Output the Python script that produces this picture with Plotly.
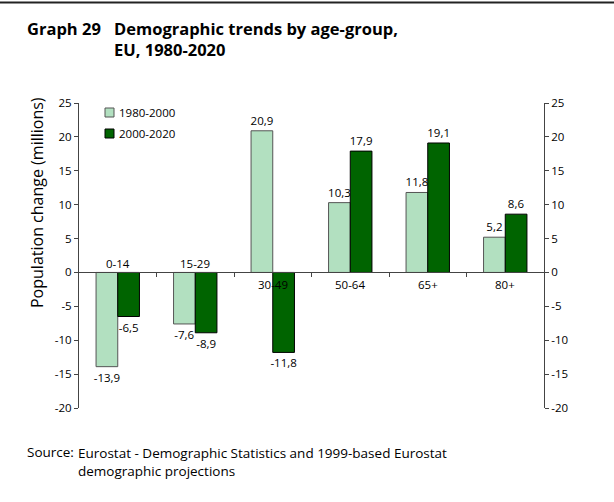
import plotly.graph_objects as go

categories = ["0-14", "15-29", "30-49", "50-64", "65+", "80+"]
series_names = ["1980-2000", "2000-2020"]
series_1980_2000 = [-13.9, -7.6, 20.9, 10.3, 11.8, 5.2]
series_2000_2020 = [-6.5, -8.9, -11.8, 17.9, 19.1, 8.6]
y_tick_values = [-20, -15, -10, -5, 0, 5, 10, 15, 20, 25]
y_tick_labels = ["-20", "-15", "-10", "-5", "0", "5", "10", "15", "20", "25"]
label_above_axis = [True, True, False, False, False, False]

FONT = "Open Sans"
LIGHT = "#b2e0c0"
DARK = "#006400"
W, H = 614, 502
ML, MR, MT, MB = 79, 70, 103, 94


def fmt(v):
    return f"{v:.1f}".replace(".", ",")


xs = list(range(len(categories)))
plot_w = W - ML - MR
plot_h = H - MT - MB


def px_x(px):
    return (px - ML) / plot_w


def px_y(py):
    return (H - MB - py) / plot_h


fig = go.Figure()
for name, vals, col, lc in [(series_names[0], series_1980_2000, LIGHT, "#555555"),
                            (series_names[1], series_2000_2020, DARK, "#000000")]:
    fig.add_trace(go.Bar(
        x=xs, y=vals, name=name,
        marker=dict(color=col, line=dict(color=lc, width=1)),
        text=[fmt(v) for v in vals], textposition="outside", constraintext="none",
        textfont=dict(family=FONT, size=11.5, color="#000"), cliponaxis=False,
        showlegend=False,
    ))
fig.add_trace(go.Scatter(x=[None], y=[None], yaxis="y2", showlegend=False, hoverinfo="skip"))

ymin, ymax = -20, 25
zero_pos = (0 - ymin) / (ymax - ymin)

axis_common = dict(range=[ymin, ymax], tickvals=y_tick_values, ticktext=y_tick_labels,
                   ticks="outside", ticklen=4, tickcolor="#444",
                   showline=True, linecolor="#444", linewidth=1, showgrid=False, zeroline=False,
                   tickfont=dict(family=FONT, size=11.5))

fig.update_layout(
    width=W, height=H,
    margin=dict(l=ML, r=MR, t=MT, b=MB),
    paper_bgcolor="white", plot_bgcolor="white",
    font=dict(family=FONT, size=11, color="#000"),
    barmode="group", bargap=0.44, bargroupgap=0,
    showlegend=False,
    xaxis=dict(range=[-0.5, len(categories) - 0.5], anchor="free", position=zero_pos,
               tickvals=[i + 0.5 for i in range(len(categories) - 1)],
               showticklabels=False, ticks="outside", ticklen=4, tickcolor="#444",
               showline=True, linecolor="#444", linewidth=1, showgrid=False, zeroline=False),
    yaxis=dict(**axis_common),
    yaxis2=dict(overlaying="y", side="right", **axis_common),
)

# category labels
for i, (c, above) in enumerate(zip(categories, label_above_axis)):
    fig.add_annotation(x=i, y=0, xref="x", yref="y", text=c, showarrow=False,
                       yshift=9 if above else -12, font=dict(family=FONT, size=11.5))


def text_at(px, py, text, size, anchor="left", angle=0):
    fig.add_annotation(x=px_x(px), y=px_y(py), xref="paper", yref="paper", xanchor=anchor,
                       yanchor="middle", text=text, showarrow=False, textangle=angle,
                       align="left", font=dict(family=FONT, size=size, color="#000"))


# y-axis title
text_at(37, 203, "Population change (millions)", 16, anchor="center", angle=-90)

# legend (manual, to match reference spacing)
for (name, col, lc, cy) in [(series_names[0], LIGHT, "#555555", 112.5),
                            (series_names[1], DARK, "#000000", 133.5)]:
    fig.add_shape(type="rect", xref="paper", yref="paper",
                  x0=px_x(105), x1=px_x(114), y0=px_y(cy - 4.5), y1=px_y(cy + 4.5),
                  fillcolor=col, line=dict(color=lc, width=1))
    text_at(117, cy, name, 11.5)

# title
text_at(25, 29, "<b>Graph 29</b>", 16.5)
text_at(112, 39, "<b>Demographic trends by age-group,<br>EU, 1980-2020</b>", 16.5)

# source
text_at(25, 452, "Source:", 13.5)
text_at(76, 461.5, "Eurostat - Demographic Statistics and 1999-based Eurostat<br>demographic projections", 13.5)

# top rule
fig.add_shape(type="line", xref="paper", yref="paper", layer="above",
              x0=px_x(0), x1=px_x(W), y0=px_y(2.5), y1=px_y(2.5),
              line=dict(color="#222222", width=2))

fig.write_html("out.html", config={"displayModeBar": False},
               post_script="document.body.style.margin='0';document.body.style.padding='0';")
